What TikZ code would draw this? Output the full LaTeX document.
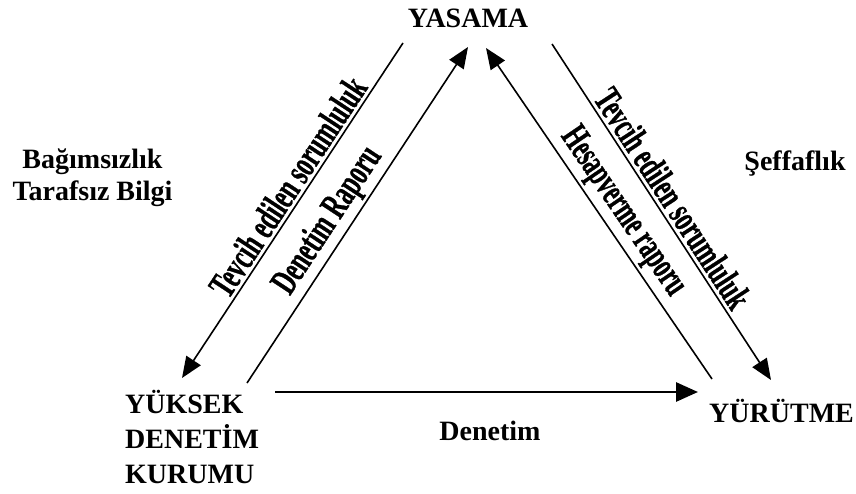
\documentclass[tikz,border=0pt]{standalone}
\usepackage{fontspec}
\usepackage{graphicx}
\setmainfont{Liberation Serif}
\newfontfamily\heavyfont[FakeBold=1]{Liberation Serif Bold}
\usetikzlibrary{arrows.meta}
\begin{document}
\begin{tikzpicture}[x=1pt,y=-1pt,
  lbl/.style={font=\fontsize{28}{32}\selectfont\bfseries, inner sep=0pt},
  conn/.style={line width=1.6pt, -{Triangle[length=21pt,width=17pt]}},
  bigconn/.style={line width=2.8pt, -{Triangle[length=22pt,width=19pt]}},
  slab/.style={sloped, above, inner sep=3pt, font=\fontsize{38}{38}\heavyfont}
]
\useasboundingbox[fill=white] (0,0) rectangle (856,493);
\node[lbl, anchor=base] (yasama) at (468,27) {YASAMA};
\node[lbl, anchor=base, align=center] (bag) at (92.5,200) {Bağımsızlık\\Tarafsız Bilgi};
\node[lbl, anchor=base] (seff) at (795,170) {Şeffaflık};
\node[lbl, anchor=base west, align=left, font=\fontsize{28}{35}\selectfont\bfseries] (ydk) at (125,483) {YÜKSEK\\DENETİM\\KURUMU};
\node[lbl, anchor=base west] (yurutme) at (709,422) {YÜRÜTME};
\node[lbl, anchor=base] (denetim) at (490,440) {Denetim};

\coordinate (lo1) at (403,43);
\coordinate (lo2) at (182,378);
\coordinate (li1) at (247,383);
\coordinate (li2) at (468,47);
\coordinate (ri1) at (712,379);
\coordinate (ri2) at (486,48);
\coordinate (ro1) at (552,44);
\coordinate (ro2) at (771,380);
\coordinate (b1) at (275,392);
\coordinate (b2) at (698,392);

\draw[conn] (lo1) -- node[slab, pos=0.457] (tl) {\scalebox{0.62}[1]{Tevcih edilen sorumluluk}} (lo2);
\draw[conn] (li1) -- node[slab, pos=0.448] (dr) {\scalebox{0.62}[1]{Denetim Raporu}} (li2);
\draw[conn] (ri1) -- node[slab, pos=0.47] (hr) {\scalebox{0.6}[1]{Hesapverme raporu}} (ri2);
\draw[conn] (ro1) -- node[slab, pos=0.487] (tr) {\scalebox{0.62}[1]{Tevcih edilen sorumluluk}} (ro2);
\draw[bigconn] (b1) -- (b2);
\end{tikzpicture}
\end{document}
